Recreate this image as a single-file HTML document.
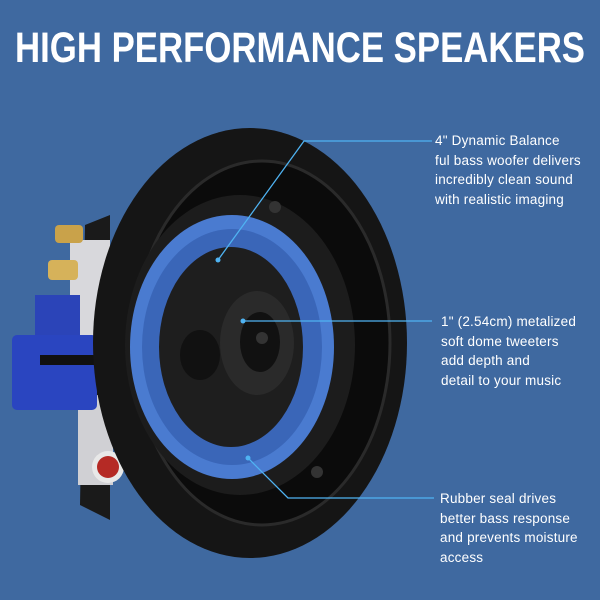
<!DOCTYPE html>
<html><head><style>
html,body{margin:0;padding:0}
body{width:600px;height:600px;background:#3f69a0;position:relative;overflow:hidden;font-family:"Liberation Sans",sans-serif}
.t{position:absolute;color:#fff;font-size:13.5px;line-height:19.6px;letter-spacing:0.2px}
svg{position:absolute;left:0;top:0}
</style></head><body>
<svg width="600" height="600">
 <text x="15" y="62" textLength="570" lengthAdjust="spacingAndGlyphs" font-family="Liberation Sans, sans-serif" font-weight="bold" font-size="43" fill="#fff">HIGH PERFORMANCE SPEAKERS</text>
 <!-- back frame -->
 <path d="M85,225 L110,215 L110,520 L80,505 Z" fill="#1a1a1a"/>
 <rect x="70" y="240" width="40" height="100" fill="#d8d8dc"/>
 <rect x="78" y="395" width="35" height="90" fill="#d0d0d4"/>
 <!-- gold terminals -->
 <rect x="55" y="225" width="28" height="18" rx="4" fill="#c9a24a"/>
 <rect x="48" y="260" width="30" height="20" rx="4" fill="#d6b25a"/>
 <!-- blue clip -->
 <rect x="35" y="295" width="45" height="45" fill="#2b44b8"/>
 <rect x="12" y="335" width="85" height="75" rx="5" fill="#2a45c0"/>
 <rect x="40" y="355" width="60" height="10" fill="#111"/>
 <!-- red terminal -->
 <circle cx="108" cy="467" r="16" fill="#e8e8e8"/>
 <circle cx="108" cy="467" r="11" fill="#b52a25"/>
 <!-- flange -->
 <ellipse cx="250" cy="343" rx="157" ry="215" fill="#151515"/>
 <ellipse cx="262" cy="343" rx="128" ry="182" fill="#0b0b0b" stroke="#2a2a2a" stroke-width="3"/>
 <ellipse cx="240" cy="345" rx="115" ry="150" fill="#1c1c1c"/>
 <!-- blue surround -->
 <ellipse cx="232" cy="347" rx="102" ry="132" fill="#4a7bd0"/>
 <ellipse cx="232" cy="347" rx="90" ry="118" fill="#3a66b8"/>
 <ellipse cx="231" cy="347" rx="72" ry="100" fill="#1e1e1e"/>
 <!-- tweeter -->
 <ellipse cx="257" cy="343" rx="37" ry="52" fill="#2a2a2a"/>
 <ellipse cx="260" cy="342" rx="20" ry="30" fill="#111"/>
 <circle cx="262" cy="338" r="6" fill="#333"/>
 <ellipse cx="200" cy="355" rx="20" ry="25" fill="#111"/>
 <!-- screws -->
 <circle cx="275" cy="207" r="6" fill="#333"/>
 <circle cx="317" cy="472" r="6" fill="#333"/>
 <!-- callout lines -->
 <g stroke="#4fb3f2" stroke-width="1.3" fill="none">
  <polyline points="218,260 304,141 432,141"/>
  <polyline points="243,321 432,321"/>
  <polyline points="248,458 288,498 434,498"/>
 </g>
 <g fill="#4fb3f2">
  <circle cx="218" cy="260" r="2.5"/><circle cx="243" cy="321" r="2.5"/><circle cx="248" cy="458" r="2.5"/>
 </g>
</svg>
<div class="t" style="left:435px;top:131px">4" Dynamic Balance<br>ful bass woofer delivers<br>incredibly clean sound<br>with realistic imaging</div>
<div class="t" style="left:441px;top:312px">1" (2.54cm) metalized<br>soft dome tweeters<br>add depth and<br>detail to your music</div>
<div class="t" style="left:440px;top:489px">Rubber seal drives<br>better bass response<br>and prevents moisture<br>access</div>
</body></html>
